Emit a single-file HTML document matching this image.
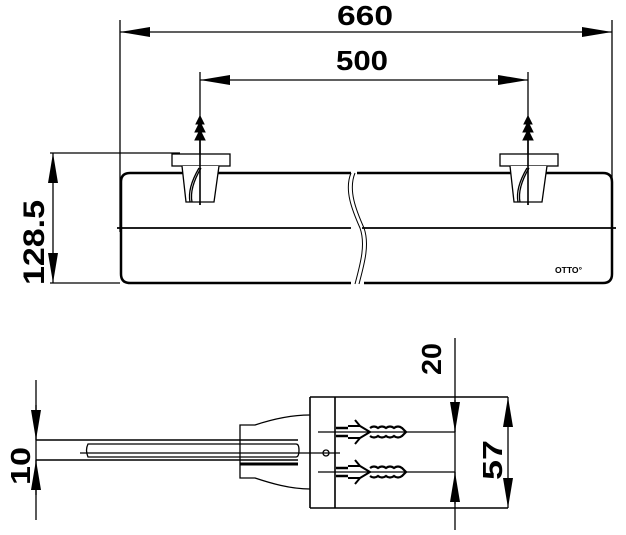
<!DOCTYPE html>
<html><head><meta charset="utf-8"><style>
html,body{margin:0;padding:0;background:#fff;}
svg{display:block;}
text{font-family:"Liberation Sans",sans-serif;font-weight:bold;fill:#000;}
</style></head><body>
<svg width="626" height="535" viewBox="0 0 626 535" xmlns="http://www.w3.org/2000/svg">
<defs>
<marker id="b" viewBox="0 0 30 12" refX="30" refY="6" markerWidth="30" markerHeight="12" markerUnits="userSpaceOnUse" orient="auto-start-reverse"><path d="M0,1 L30,6 L0,11z" fill="#000"/></marker>
</defs>
<g stroke="#000" fill="none" stroke-width="1.3">
<line x1="120" y1="20" x2="120" y2="232"/>
<line x1="612" y1="20" x2="612" y2="232"/>
<line x1="120" y1="32" x2="612" y2="32" marker-start="url(#b)" marker-end="url(#b)"/>
<line x1="200" y1="72" x2="200" y2="205"/>
<line x1="528" y1="72" x2="528" y2="205"/>
<line x1="200" y1="80" x2="528" y2="80" marker-start="url(#b)" marker-end="url(#b)"/>
<line x1="50" y1="153" x2="180" y2="153"/>
<line x1="50" y1="283" x2="120" y2="283"/>
<line x1="53" y1="153" x2="53" y2="283" marker-start="url(#b)" marker-end="url(#b)"/>
<path d="M351,173 H130 Q121,173 121,182 V274 Q121,283 130,283 H351" stroke-width="2.5"/>
<path d="M357,173 H603 Q612,173 612,182 V274 Q612,283 603,283 H364" stroke-width="2.5"/>
<path d="M351,173 C344,190 352,210 360,228 C366,245 360,265 355,284" stroke-width="1"/>
<path d="M355,173 C348,190 356,210 364,228 C370,245 364,265 359,284" stroke-width="1"/>
<line x1="117" y1="228" x2="351" y2="228" stroke-width="1.8"/>
<line x1="362" y1="228" x2="616" y2="228" stroke-width="1.8"/>
<g id="br">
<rect x="172" y="154" width="58" height="12" fill="#fff"/>
<path d="M182,166 L186,202 H214 L219,166" fill="#fff"/>
<path d="M199,168 C192,180 188,192 190,202"/>
<path d="M201,168 C194,180 190,192 192,202"/>
<path d="M200,205 V118" stroke-width="1.6"/>
<path d="M200,116 L204,124 L201,124 L205,132 L201,132 L205,140 L195,140 L199,132 L195,132 L199,124 L196,124z" fill="#000" stroke-width="1"/>
</g>
<use href="#br" transform="translate(328,0)"/>
<line x1="36" y1="380" x2="36" y2="520"/>
<line x1="36" y1="405" x2="36" y2="440" marker-end="url(#b)"/>
<line x1="36" y1="495" x2="36" y2="460" marker-end="url(#b)"/>
<path d="M36,440 H298 M36,460 H298" stroke-width="1.6"/>
<path d="M88,444 H296 Q299,444 299,450 Q299,457 296,457 H88 Q85,450 88,444z"/>
<line x1="80" y1="453" x2="340" y2="453"/>
<circle cx="326" cy="453" r="3"/>
<path d="M310,415 C290,415 270,420 255,425 H240 V478 H255 C270,483 290,489 310,489"/>
<path d="M240,464 H298" stroke-width="3"/>
<path d="M310,397 H508 M310,508 H508 M310,397 V508 M335,397 V508" stroke-width="1.6"/>
<path d="M318,432 H455 M318,472 H455"/>
<g id="an">
<path d="M336,428 H348 M336,436 H348" stroke-width="2.5"/>
<path d="M348,426 L360,426 L355,420 M360,426 L370,432 L360,438 L348,438 M360,438 L355,444" stroke-width="2"/>
<path d="M370,428 Q374,425 378,428 Q382,425 386,428 Q390,425 394,428 Q398,425 402,428 L406,432 L402,436 Q398,439 394,436 Q390,439 386,436 Q382,439 378,436 Q374,439 370,436" stroke-width="2.2"/>
</g>
<use href="#an" transform="translate(0,40)"/>
<line x1="455" y1="338" x2="455" y2="530"/>
<line x1="455" y1="400" x2="455" y2="432" marker-end="url(#b)"/>
<line x1="455" y1="504" x2="455" y2="472" marker-end="url(#b)"/>
<line x1="508" y1="397" x2="508" y2="508" marker-start="url(#b)" marker-end="url(#b)"/>
</g>
<text x="337" y="25" font-size="28" textLength="56" lengthAdjust="spacingAndGlyphs">660</text>
<text x="336" y="70" font-size="28" textLength="52" lengthAdjust="spacingAndGlyphs">500</text>
<text transform="translate(44,285) rotate(-90)" font-size="30" textLength="85" lengthAdjust="spacingAndGlyphs">128.5</text>
<text transform="translate(30,485) rotate(-90)" font-size="28" textLength="38" lengthAdjust="spacingAndGlyphs">10</text>
<text transform="translate(441,375) rotate(-90)" font-size="28" textLength="32" lengthAdjust="spacingAndGlyphs">20</text>
<text transform="translate(502,480) rotate(-90)" font-size="28" textLength="40" lengthAdjust="spacingAndGlyphs">57</text>
<text x="555" y="273" font-size="8" textLength="27" lengthAdjust="spacingAndGlyphs">OTTO°</text>
</svg>
</body></html>
